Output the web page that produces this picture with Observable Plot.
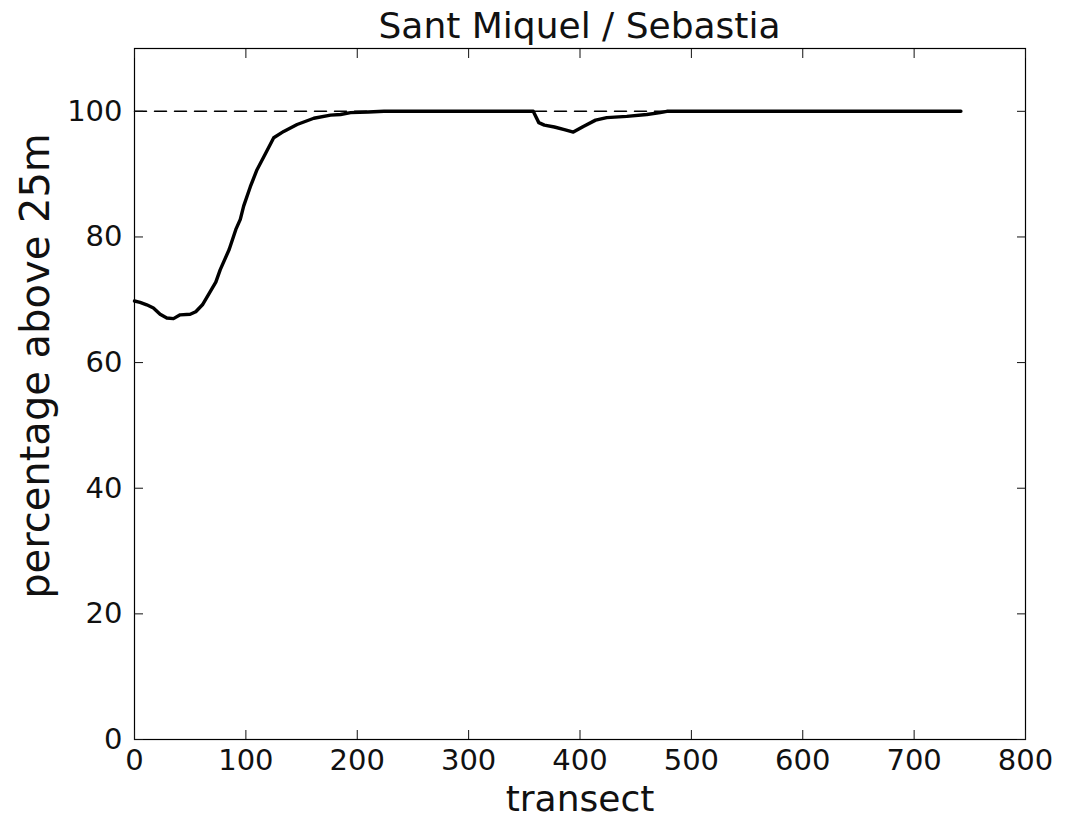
<!DOCTYPE html>
<html>
<head>
<meta charset="utf-8">
<script src="https://cdn.jsdelivr.net/npm/d3@7"></script>
<script src="https://cdn.jsdelivr.net/npm/@observablehq/plot@0.6"></script>
<style>
  body { margin: 0; background: white; }
  #title { width: 1065px; height: 47px; box-sizing: border-box; padding-left: 94px; text-align: center;
           font-family: "DejaVu Sans"; font-size: 36px; line-height: 51px; color: #111; overflow: visible; white-space: nowrap; }
</style>
</head>
<body>
<div id="title">Sant Miquel / Sebastia</div>
<div id="chart"></div>
<script>
const titleText = "Sant Miquel / Sebastia";
const xLabel = "transect";
const yLabel = "percentage above 25m";
const xTicks = [0, 100, 200, 300, 400, 500, 600, 700, 800];
const yTicks = [0, 20, 40, 60, 80, 100];
const referenceLevel = 100;

const transect = [0, 5, 11, 17, 23, 29, 35, 41, 50, 55, 61, 68, 73, 77, 85, 91, 95, 98, 104, 110, 118, 125, 134, 146, 161, 176, 185, 194, 210, 224, 300, 358, 363, 368, 377, 386, 394, 403, 414, 424, 442, 460, 472, 478, 550, 650, 742];
const percentage = [69.8, 69.6, 69.2, 68.7, 67.7, 67.1, 67.0, 67.6, 67.7, 68.1, 69.2, 71.3, 72.8, 74.8, 78.0, 81.2, 82.8, 84.9, 88.0, 90.7, 93.4, 95.8, 96.8, 97.9, 98.9, 99.4, 99.5, 99.8, 99.9, 100, 100, 100, 98.2, 97.8, 97.5, 97.1, 96.7, 97.6, 98.6, 99.0, 99.2, 99.5, 99.8, 100, 100, 100, 100];

const data = transect.map((t, i) => ({t, p: percentage[i]}));
const refLine = [{t: 0, p: referenceLevel}, {t: transect[transect.length - 1], p: referenceLevel}];

const font = "DejaVu Sans";
const chart = Plot.plot({
  width: 1065,
  height: 776,
  marginTop: 1,
  marginLeft: 134,
  marginRight: 40,
  marginBottom: 84,
  style: {fontFamily: font, fontSize: "29px", color: "#111", background: "white", overflow: "visible"},
  x: {domain: [0, 800], ticks: xTicks},
  y: {domain: [0, 110], ticks: yTicks},
  marks: [
    Plot.line(refLine, {x: "t", y: "p", stroke: "black", strokeWidth: 1.5, strokeDasharray: "12,8"}),
    Plot.line(data, {x: "t", y: "p", stroke: "black", strokeWidth: 3.4, strokeLinejoin: "round"}),
    Plot.frame({stroke: "black", strokeWidth: 1.2}),
    Plot.axisX({ticks: xTicks, anchor: "bottom", tickSize: -9, tickPadding: 19, label: null, fontSize: 29, tickFormat: d => String(d)}),
    Plot.axisX({ticks: xTicks, anchor: "top", tickSize: -9, label: null, tickFormat: () => ""}),
    Plot.axisY({ticks: yTicks, anchor: "left", tickSize: -9, tickPadding: 21, label: null, fontSize: 29, tickFormat: d => String(d)}),
    Plot.axisY({ticks: yTicks, anchor: "right", tickSize: -9, label: null, tickFormat: () => ""}),
    Plot.text([xLabel], {text: d => d, frameAnchor: "bottom", textAnchor: "middle", dy: 71, fontSize: 36, fill: "#111"}),
    Plot.text([yLabel], {text: d => d, frameAnchor: "left", textAnchor: "middle", rotate: -90, dx: -98, dy: -28, fontSize: 40, fill: "#111"})
  ]
});
document.getElementById("chart").appendChild(chart);
</script>
</body>
</html>
